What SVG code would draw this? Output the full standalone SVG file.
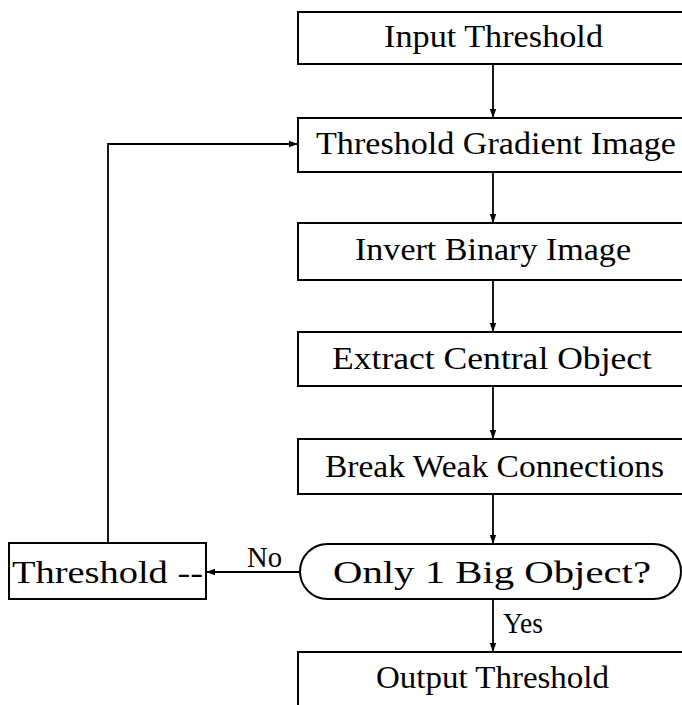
<svg xmlns="http://www.w3.org/2000/svg" width="682" height="705" viewBox="0 0 682 705">
<style>
.box{fill:#fff;stroke:#000;stroke-width:2}
.t{font-family:"Liberation Serif","DejaVu Serif",serif;font-size:32px;fill:#000}
.s{font-family:"Liberation Serif","DejaVu Serif",serif;font-size:29px;fill:#000}
.c{stroke:#000;stroke-width:1.8;fill:none}
</style>
<defs>
<marker id="ah" markerWidth="10" markerHeight="8" refX="9" refY="4" orient="auto" markerUnits="userSpaceOnUse">
<path d="M0,0.8 L9,4 L0,7.2 Z" fill="#000"/>
</marker>
</defs>
<rect width="682" height="705" fill="#fff"/>
<g id="connectors">
<line class="c" x1="493" y1="64" x2="493" y2="118" marker-end="url(#ah)"/>
<line class="c" x1="493" y1="172" x2="493" y2="223" marker-end="url(#ah)"/>
<line class="c" x1="493" y1="280" x2="493" y2="332" marker-end="url(#ah)"/>
<line class="c" x1="493" y1="386" x2="493" y2="439" marker-end="url(#ah)"/>
<line class="c" x1="493" y1="494" x2="493" y2="544" marker-end="url(#ah)"/>
<line class="c" x1="493" y1="599" x2="493" y2="652" marker-end="url(#ah)"/>
<line class="c" x1="300" y1="572" x2="206" y2="572" marker-end="url(#ah)"/>
<polyline class="c" points="108,543 108,144 298,144" marker-end="url(#ah)"/>
<text class="s" x="247" y="567" textLength="35" lengthAdjust="spacingAndGlyphs">No</text>
<text class="s" x="503" y="633" textLength="40" lengthAdjust="spacingAndGlyphs">Yes</text>
</g>
<g id="input">
<rect class="box" x="298" y="12" width="400" height="52"/>
<text class="t" x="384" y="47" textLength="219" lengthAdjust="spacingAndGlyphs">Input Threshold</text>
</g>
<g id="gradient">
<rect class="box" x="298" y="118" width="400" height="54"/>
<text class="t" x="316" y="154" textLength="360" lengthAdjust="spacingAndGlyphs">Threshold Gradient Image</text>
</g>
<g id="invert">
<rect class="box" x="298" y="223" width="400" height="57"/>
<text class="t" x="355" y="260" textLength="276" lengthAdjust="spacingAndGlyphs">Invert Binary Image</text>
</g>
<g id="extract">
<rect class="box" x="298" y="332" width="400" height="54"/>
<text class="t" x="332" y="369" textLength="320" lengthAdjust="spacingAndGlyphs">Extract Central Object</text>
</g>
<g id="break">
<rect class="box" x="298" y="439" width="400" height="55"/>
<text class="t" x="325" y="477" textLength="339" lengthAdjust="spacingAndGlyphs">Break Weak Connections</text>
</g>
<g id="decision">
<rect class="box" x="300" y="544" width="381" height="55" rx="27.5" ry="27.5"/>
<text class="t" x="333" y="583" textLength="318" lengthAdjust="spacingAndGlyphs">Only 1 Big Object?</text>
</g>
<g id="threshold-dec">
<rect class="box" x="9" y="543" width="197" height="56"/>
<text class="t" x="12" y="583" textLength="191" lengthAdjust="spacingAndGlyphs">Threshold --</text>
</g>
<g id="output">
<rect class="box" x="298" y="652" width="400" height="60"/>
<text class="t" x="376" y="688" textLength="233" lengthAdjust="spacingAndGlyphs">Output Threshold</text>
</g>
</svg>
